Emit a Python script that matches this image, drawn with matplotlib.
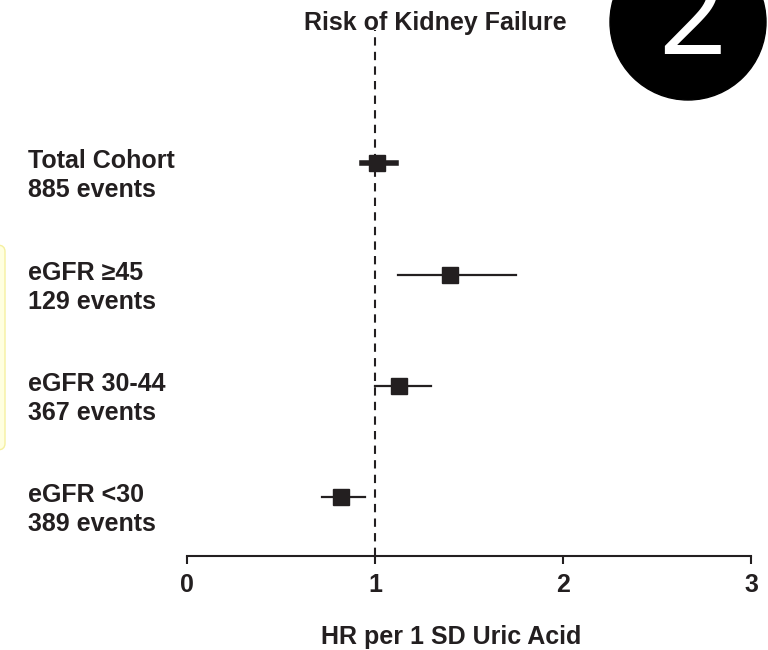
import matplotlib.pyplot as plt
from matplotlib.patches import Circle, FancyBboxPatch
from matplotlib.transforms import blended_transform_factory

# veriler
groups = ["Total Cohort", "eGFR \u226545", "eGFR 30-44", "eGFR <30"]
events = ["885 events", "129 events", "367 events", "389 events"]
hr = [1.01, 1.40, 1.13, 0.82]
ci_low = [0.93, 1.12, 1.00, 0.72]
ci_high = [1.11, 1.75, 1.30, 0.945]
rows = [4, 3, 2, 1]
xticks = [0, 1, 2, 3]

plt.rcParams['font.family'] = ['Liberation Sans', 'DejaVu Sans']
koyu = '#231f20'
fs = 18

fig = plt.figure(figsize=(7.68, 6.5), dpi=100)
ax = fig.add_axes([187/768, 1 - 556/650, (751 - 187)/768, (556 - 30)/650])

# referans cizgisi
ax.axvline(1, color=koyu, ls=(0, (4, 3)), lw=1.5, zorder=1)

trans = blended_transform_factory(fig.transFigure, ax.transData)
for i in range(len(hr)):
    lw = 4 if i == 0 else 1.6
    ax.plot([ci_low[i], ci_high[i]], [rows[i], rows[i]], color=koyu, lw=lw, zorder=2)
    ax.plot(hr[i], rows[i], marker='s', ms=12, color=koyu, zorder=3)
    # grup etiketi iki satir
    ax.text(28/768, rows[i] - 0.045, groups[i], transform=trans, ha='left',
            va='baseline', fontsize=fs, fontweight='bold', color=koyu)
    ax.text(28/768, rows[i] - 0.305, events[i], transform=trans, ha='left',
            va='baseline', fontsize=fs, fontweight='bold', color=koyu)

ax.set_xlim(0, 3)
ax.set_ylim(0.47, 5.2)
ax.set_xticks(xticks)
ax.set_xticklabels([str(t) for t in xticks], fontsize=fs, fontweight='bold', color=koyu)
ax.tick_params(axis='x', length=6, width=1.5, color=koyu, pad=6)
ax.set_yticks([])
for s in ['top', 'right', 'left']:
    ax.spines[s].set_visible(False)
ax.spines['bottom'].set_linewidth(1.5)
ax.spines['bottom'].set_color(koyu)
ax.set_xlabel("HR per 1 SD Uric Acid", fontsize=fs, fontweight='bold', color=koyu)
ax.xaxis.set_label_coords((451 - 187)/564, -69/526)

fig.text(435/768, 1 - 23/650, "Risk of Kidney Failure", ha='center', va='center',
         fontsize=fs, fontweight='bold', color=koyu)

# sag ustteki siyah daire
daire = Circle((688, 650 - 22), 78, transform=None, color='black', zorder=5)
fig.patches.append(daire)
fig.text(692/768, 1 - 23/650, "2", ha='center', va='center', color='white',
         fontsize=86, family='Open Sans', fontweight='normal', zorder=6)

# soldaki sari kutu
kutu = FancyBboxPatch((-10/768, 1 - 450/650), 15/768, 205/650,
                      boxstyle="round,pad=0,rounding_size=0.01",
                      transform=fig.transFigure, facecolor='#ffffe0',
                      edgecolor='#f5f0a0', lw=1, zorder=0)
fig.patches.append(kutu)

plt.savefig("out.png", dpi=100)
